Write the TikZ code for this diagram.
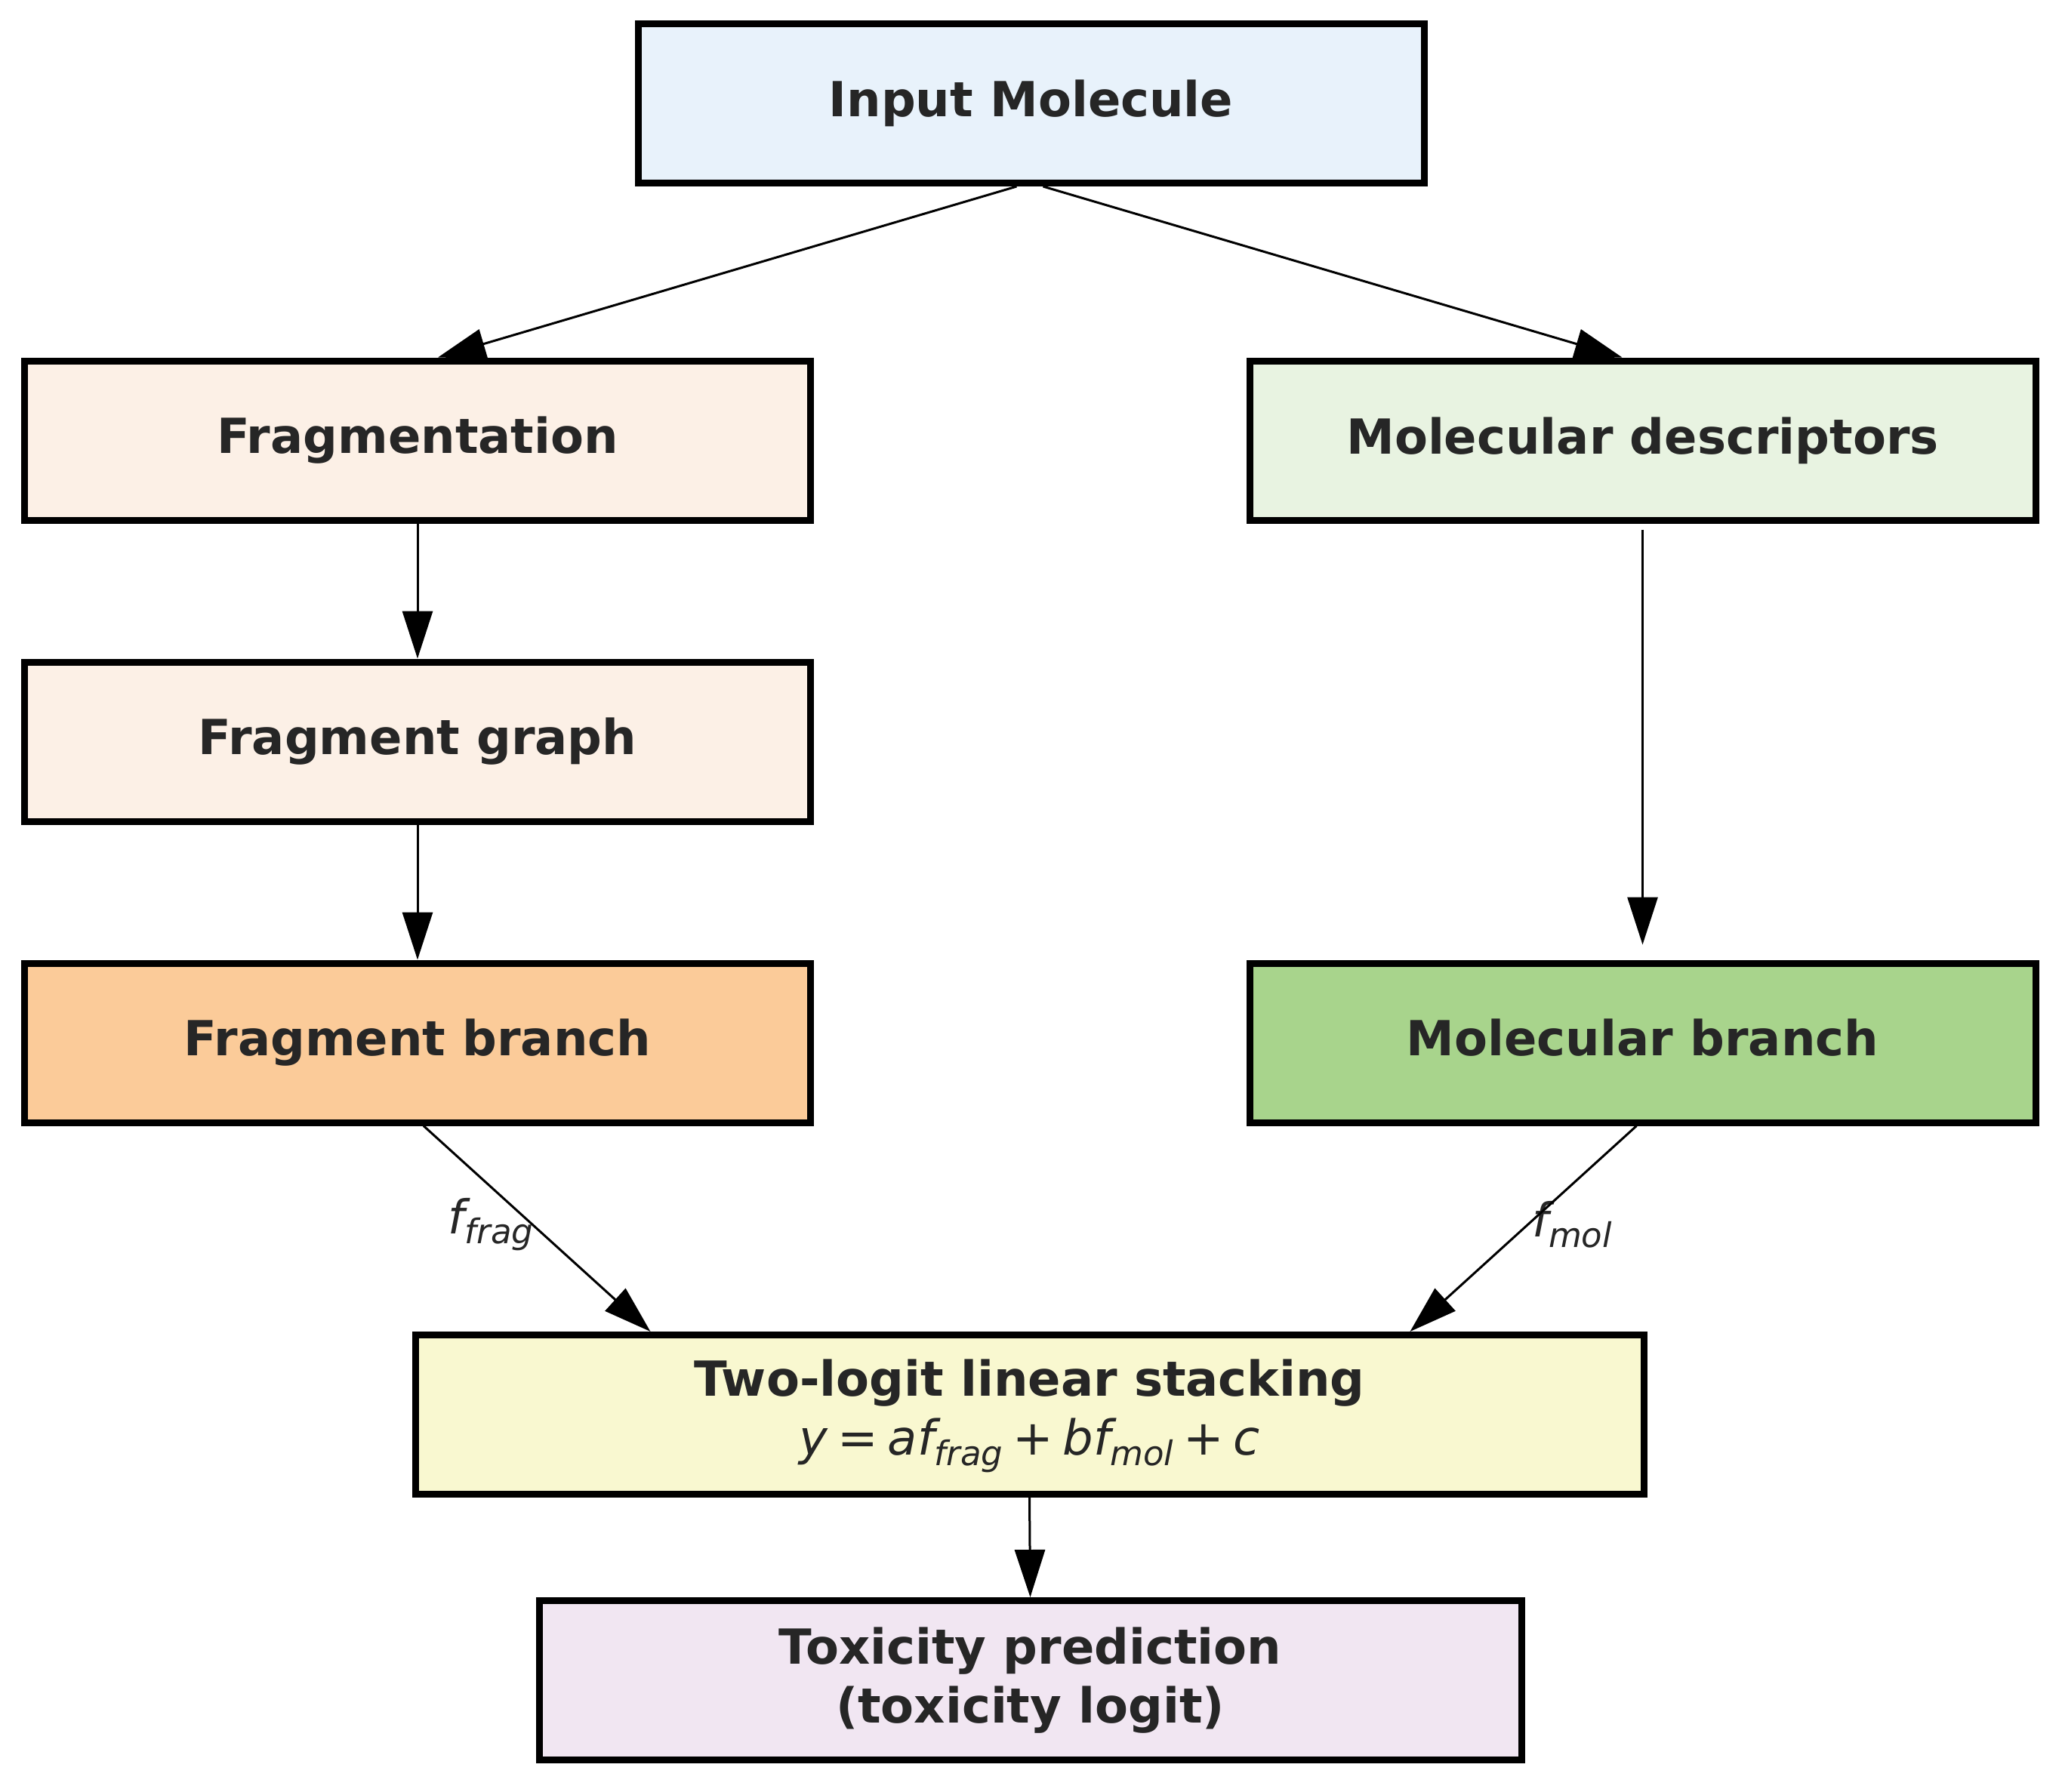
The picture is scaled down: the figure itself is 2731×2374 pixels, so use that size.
\documentclass[tikz,border=0pt]{standalone}
\usepackage{fontspec}
\setmainfont{DejaVu Sans}
\usetikzlibrary{arrows.meta}
\definecolor{txt}{HTML}{262626}
\definecolor{cIn}{HTML}{E8F2FB}
\definecolor{cFrag}{HTML}{FCF0E6}
\definecolor{cDesc}{HTML}{E8F3E1}
\definecolor{cFbr}{HTML}{FBCB99}
\definecolor{cMbr}{HTML}{A8D48C}
\definecolor{cStack}{HTML}{F9F8D0}
\definecolor{cTox}{HTML}{F1E6F2}
\newcommand\fsub[1]{\raisebox{-0.22em}{\fontsize{45}{50}\selectfont #1}}
\newcommand\opsp{\hspace{0.2em}}
\begin{document}
\begin{tikzpicture}[x=1pt,y=-1pt,
  box/.style={draw=black, line width=9pt, inner sep=0pt, minimum height=211pt,
    minimum width=1041pt, text=txt, align=center,
    font=\bfseries\fontsize{64}{78}\selectfont},
  conn/.style={line width=3pt, draw=black, -{Triangle[length=63pt,width=40pt]}},
  lab/.style={text=txt, font=\fontsize{62}{70}\selectfont, inner sep=0pt}]
\useasboundingbox (0,0) rectangle (2731,2374);
\fill[white] (0,0) rectangle (2731,2374);

\node[box, fill=cIn] (in) at (1365.5,137) {Input Molecule};
\node[box, fill=cFrag] (frag) at (553,583.5) {Fragmentation};
\node[box, fill=cDesc] (desc) at (2175.5,583.5) {Molecular descriptors};
\node[box, fill=cFrag] (fgraph) at (553,982.5) {Fragment graph};
\node[box, fill=cFbr] (fbr) at (553,1381.5) {Fragment branch};
\node[box, fill=cMbr] (mbr) at (2175.5,1381.5) {Molecular branch\vphantom{g}};
\node[box, fill=cStack, minimum width=1627pt] (stack) at (1363.5,1874)
  {\rule{0pt}{52pt}Two-logit linear stacking\\{\mdseries\itshape y\opsp\textup{=}\opsp af\fsub{frag}\opsp\textup{+}\opsp bf\fsub{mol}\opsp\textup{+}\opsp c}};
\node[box, fill=cTox, minimum width=1301pt] (tox) at (1364.5,2226)
  {Toxicity prediction\\(toxicity logit)};

\node[lab] (lfrag) at (650,1622) {\itshape f\fsub{frag}};
\node[lab] (lmol) at (2082,1622) {\itshape f\fsub{mol}};

\draw[conn] ([xshift=-19pt]in.south) -- ([xshift=27pt]frag.north);
\draw[conn] ([xshift=16pt]in.south) -- ([xshift=-27pt]desc.north);
\draw[conn] (frag.south) -- (fgraph.north);
\draw[conn] (fgraph.south) -- (fbr.north);
\draw[conn, shorten <=8pt, shorten >=20pt] (desc.south) -- (mbr.north);
\draw[conn] ([xshift=8pt]fbr.south) -- ([xshift=-502pt]stack.north);
\draw[conn] ([xshift=-8pt]mbr.south) -- ([xshift=504pt]stack.north);
\draw[conn] (stack.south) -- (tox.north);
\end{tikzpicture}
\end{document}
